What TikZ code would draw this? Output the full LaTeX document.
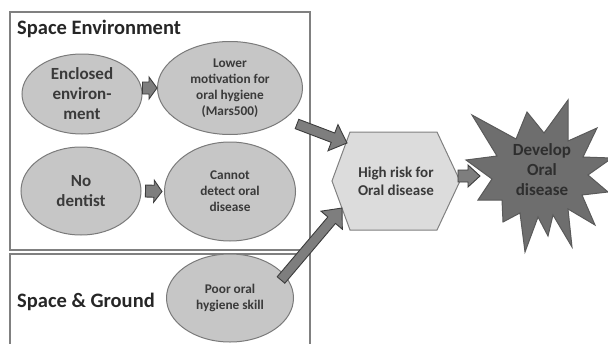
\documentclass[tikz,border=0pt]{standalone}
\usepackage{fontspec}
\setmainfont{Carlito}
\usetikzlibrary{calc,shapes.geometric}

\definecolor{framegray}{HTML}{808080}
\definecolor{ovalfill}{HTML}{C6C6C6}
\definecolor{ovalline}{HTML}{7A7A7A}
\definecolor{hexfill}{HTML}{DCDCDC}
\definecolor{starfill}{HTML}{6E6E6E}
\definecolor{starline}{HTML}{5A5A5A}
\definecolor{arrowfill}{HTML}{7E7E7E}
\definecolor{arrowline}{HTML}{3C3C3C}
\definecolor{inktext}{HTML}{3A3A3A}

\tikzset{
  frame/.style={draw=framegray, line width=1.3pt},
  heading/.style={anchor=base west, inner sep=0pt, font=\bfseries\fontsize{20.5}{24}\selectfont, text=black!85},
  oval/.style={ellipse, draw=ovalline, fill=ovalfill, line width=1pt, inner sep=0pt,
    align=center, text=inktext, font=\bfseries\fontsize{13.3}{16}\selectfont},
  bigtext/.style={font=\bfseries\fontsize{17}{20}\selectfont},
  blockarrow/.style={draw=arrowline, fill=arrowfill, line width=0.9pt, line join=miter},
  hexshape/.style={draw=framegray, fill=hexfill, line width=1pt},
  starshape/.style={draw=starline, fill=starfill, line width=1pt, line join=miter},
}

% block arrow: #1 tail, #2 tip, #3 half shaft width, #4 half head width, #5 head length
\newcommand\blockarrow[5]{%
  \coordinate (ba-base) at ($(#2)!#5!(#1)$);
  \draw[blockarrow]
    ($(#1)!#3!90:(#2)$) -- ($(ba-base)!#3!-90:(#1)$) -- ($(ba-base)!#4!-90:(#1)$)
    -- (#2) -- ($(ba-base)!#4!90:(#1)$) -- ($(ba-base)!#3!90:(#1)$)
    -- ($(#1)!#3!-90:(#2)$) -- cycle;
}

\begin{document}
\begin{tikzpicture}[x=1pt, y=-1pt]
  \useasboundingbox (0,0) rectangle (608,343);

  % group frames
  \draw[frame] (10,12) rectangle (310,250);
  \draw[frame] (10,345) -- (10,254) -- (310,254) -- (310,345);
  \node[heading] (t1) at (17,34) {Space Environment};
  \node[heading] (t2) at (17,307) {Space \& Ground};

  % causes
  \node[oval, bigtext, minimum width=120pt, minimum height=80pt] (enc) at (82,94)
    {Enclosed\\environ-\\ment};
  \node[oval, minimum width=145pt, minimum height=93pt] (low) at (230,88)
    {Lower\\motivation for\\oral hygiene\\(Mars500)};
  \node[oval, bigtext, minimum width=120pt, minimum height=88pt] (nod) at (81,191)
    {No\\dentist};
  \node[oval, minimum width=131pt, minimum height=99pt] (cant) at (230,191.5)
    {Cannot\\detect oral\\disease};
  \node[oval, minimum width=127pt, minimum height=88pt] (poor) at (230,298)
    {Poor oral\\hygiene skill};

  % risk hexagon
  \draw[hexshape] (332,181) -- (350,132) -- (437,132) -- (460,181)
    -- (437,230) -- (350,230) -- cycle;
  \node[align=center, text=inktext, font=\bfseries\fontsize{15}{18}\selectfont]
    (hex) at (396,181) {High risk for\\Oral disease};

  % outcome burst
  \draw[starshape]
    (568,100) -- (568,141) -- (597,128) -- (583,157) -- (612,158) -- (588,175)
    -- (608,192) -- (582,195) -- (595,225) -- (568,209) -- (572,247) -- (553,215)
    -- (548,236) -- (538,217) -- (525,252) -- (520,213) -- (503,222) -- (502,200)
    -- (478,200) -- (492,179) -- (466,160) -- (497,156) -- (472,115) -- (516,139)
    -- (527,112) -- (544,133) -- cycle;
  \node[align=center, text=black!82, font=\bfseries\fontsize{17}{20}\selectfont]
    (star) at (542,170) {Develop\\Oral\\disease};

  % connector ends
  \coordinate (encR) at (enc.east |- low.west);
  \coordinate (nodR) at ($(nod.east)+(4,0)$);
  \coordinate (cantL) at ($(cant.west)+(-2,0)$);
  \coordinate (lowOut) at (297,124);
  \coordinate (hexIn1) at (347,143);
  \coordinate (poorOut) at (281,280);
  \coordinate (hexIn2) at (342,208);
  \coordinate (hexR) at (458,176);
  \coordinate (starL) at (480,176);

  % connectors
  \blockarrow{encR}{low.west}{6pt}{11pt}{8pt}
  \blockarrow{nodR}{cantL}{6pt}{11pt}{8pt}
  \blockarrow{lowOut}{hexIn1}{5pt}{14pt}{15pt}
  \blockarrow{poorOut}{hexIn2}{5pt}{14pt}{16pt}
  \blockarrow{hexR}{starL}{6pt}{11pt}{12pt}
\end{tikzpicture}
\end{document}
